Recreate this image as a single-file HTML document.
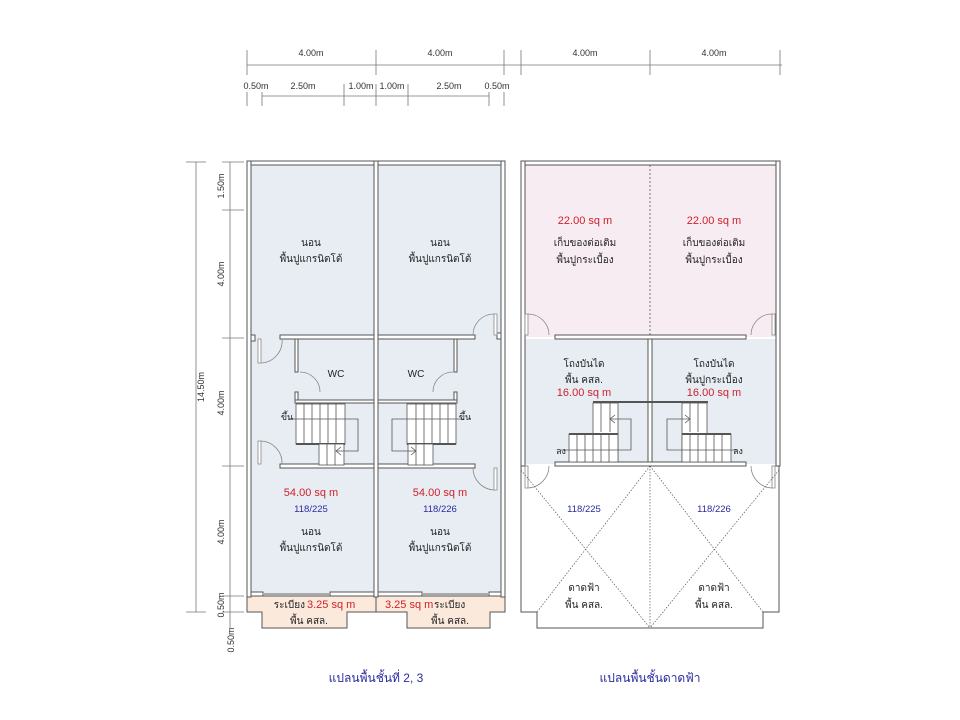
<!DOCTYPE html>
<html><head><meta charset="utf-8"><style>
html,body{margin:0;padding:0;background:#fff;}
svg{display:block;}
text{font-family:"Liberation Sans","DejaVu Sans",sans-serif;font-size:10px;fill:#222;text-anchor:middle;}
.r{fill:#d0202a;font-size:11px;}
.b{fill:#2a2aa0;font-size:9.5px;}
.d{font-size:9px;fill:#333;}
.t{fill:#2a2aa0;font-size:12px;}
.w{fill:#fff;stroke:#555;stroke-width:1;}
.dim{stroke:#777;stroke-width:0.8;fill:none;}
.ln{stroke:#555;stroke-width:0.8;fill:none;}
.dr{stroke:#888;stroke-width:0.8;fill:none;}
</style></head><body>
<svg width="960" height="720" viewBox="0 0 960 720" xmlns="http://www.w3.org/2000/svg">
<!-- top dims -->
<g class="dim">
<line x1="247" y1="65" x2="782" y2="65"/>
<line x1="247" y1="50" x2="247" y2="75"/><line x1="376" y1="50" x2="376" y2="75"/><line x1="504" y1="50" x2="504" y2="75"/>
<line x1="521" y1="50" x2="521" y2="75"/><line x1="650" y1="50" x2="650" y2="75"/><line x1="780" y1="50" x2="780" y2="75"/>
<line x1="262" y1="96" x2="489" y2="96"/>
<line x1="247" y1="92" x2="247" y2="106"/><line x1="262" y1="92" x2="262" y2="106"/><line x1="344" y1="84" x2="344" y2="106"/>
<line x1="376" y1="84" x2="376" y2="106"/><line x1="408" y1="84" x2="408" y2="106"/><line x1="489" y1="92" x2="489" y2="106"/><line x1="504" y1="92" x2="504" y2="106"/>
</g>
<text class="d" x="311" y="56">4.00m</text><text class="d" x="440" y="56">4.00m</text>
<text class="d" x="585" y="56">4.00m</text><text class="d" x="714" y="56">4.00m</text>
<text class="d" x="256" y="89">0.50m</text><text class="d" x="303" y="89">2.50m</text><text class="d" x="361" y="89">1.00m</text>
<text class="d" x="392" y="89">1.00m</text><text class="d" x="449" y="89">2.50m</text><text class="d" x="497" y="89">0.50m</text>
<!-- left dims -->
<g class="dim">
<line x1="196" y1="162" x2="196" y2="612"/>
<line x1="186" y1="162" x2="206" y2="162"/><line x1="186" y1="612" x2="206" y2="612"/>
<line x1="230" y1="162" x2="230" y2="628"/>
<line x1="222" y1="162" x2="244" y2="162"/><line x1="222" y1="210" x2="244" y2="210"/><line x1="222" y1="338" x2="244" y2="338"/>
<line x1="222" y1="466" x2="244" y2="466"/><line x1="222" y1="596" x2="244" y2="596"/><line x1="222" y1="612" x2="244" y2="612"/>
</g>
<text class="d" transform="translate(204,387) rotate(-90)">14.50m</text>
<text class="d" transform="translate(224,186) rotate(-90)">1.50m</text>
<text class="d" transform="translate(224,274) rotate(-90)">4.00m</text>
<text class="d" transform="translate(224,403) rotate(-90)">4.00m</text>
<text class="d" transform="translate(224,532) rotate(-90)">4.00m</text>
<text class="d" transform="translate(224,605) rotate(-90)">0.50m</text>
<text class="d" transform="translate(234,640) rotate(-90)">0.50m</text>

<!-- LEFT PLAN -->
<rect x="248" y="162" width="256" height="434" fill="#e8edf4"/>
<path d="M247 596 H505 V612 H490 V628 H407 V612 H347 V628 H262 V612 H247 Z" fill="#fbe9dc" stroke="#555" stroke-width="1"/>
<line x1="376" y1="596" x2="376" y2="612" stroke="#555"/>
<rect class="w" x="247" y="161" width="258" height="4"/>
<rect class="w" x="247" y="161" width="4" height="436"/>
<rect class="w" x="501" y="161" width="4" height="436"/>
<rect class="w" x="374" y="161" width="4" height="436"/>
<!-- y336 wall -->
<rect class="w" x="280" y="335" width="94" height="4"/><rect class="w" x="378" y="335" width="97" height="4"/>
<rect class="w" x="251" y="335" width="4" height="6"/><rect class="w" x="497" y="333" width="4" height="6"/>
<!-- y464 wall -->
<rect class="w" x="280" y="464" width="94" height="4"/><rect class="w" x="378" y="464" width="97" height="4"/>
<!-- bottom wall -->
<rect class="w" x="251" y="592" width="12" height="4"/><rect class="w" x="330" y="592" width="44" height="4"/>
<rect class="w" x="378" y="592" width="44" height="4"/><rect class="w" x="489" y="592" width="12" height="4"/>
<line x1="263" y1="594" x2="330" y2="594" stroke="#aaa" stroke-width="2"/><line x1="422" y1="594" x2="489" y2="594" stroke="#aaa" stroke-width="2"/>
<!-- doors left -->
<g class="dr">
<rect x="258" y="339" width="3" height="24" fill="#fff"/><path d="M261 363 A22 22 0 0 0 282 339"/>
<rect x="258" y="441" width="3" height="23" fill="#fff"/><path d="M261 441 A22 22 0 0 1 282 464"/>
<rect x="494" y="314" width="3" height="21" fill="#fff"/><path d="M494 314 A21 21 0 0 0 473 335"/>
<rect x="494" y="468" width="3" height="22" fill="#fff"/><path d="M494 490 A22 22 0 0 1 473 468"/>
<!-- wc doors -->
<path d="M300 372 A20 20 0 0 1 320 392"/><path d="M453 372 A20 20 0 0 0 433 392"/>
</g>
<!-- WC walls -->
<rect class="w" x="295" y="339" width="3" height="33"/><rect class="w" x="295" y="392" width="3" height="10"/>
<rect class="w" x="295" y="400" width="79" height="3"/>
<rect class="w" x="454" y="339" width="3" height="33"/><rect class="w" x="454" y="392" width="3" height="10"/>
<rect class="w" x="378" y="400" width="79" height="3"/>
<text x="336" y="377">WC</text><text x="416" y="377">WC</text>
<!-- stairs left -->
<g class="ln">
<rect x="296" y="404" width="49" height="40" fill="#fff"/>
<line x1="304" y1="404" x2="304" y2="444"/><line x1="312" y1="404" x2="312" y2="444"/><line x1="320" y1="404" x2="320" y2="444"/><line x1="328" y1="404" x2="328" y2="444"/><line x1="336" y1="404" x2="336" y2="444"/>
<line x1="296" y1="444" x2="345" y2="444" stroke-width="2"/>
<rect x="319" y="444" width="25" height="21" fill="#fff"/>
<line x1="327" y1="444" x2="327" y2="465"/><line x1="335" y1="444" x2="335" y2="465"/>
<polyline points="288,419 358,419 358,451 336,451"/><polyline points="341,447 336,451 341,455"/>
<rect x="407" y="404" width="49" height="40" fill="#fff"/>
<line x1="416" y1="404" x2="416" y2="444"/><line x1="424" y1="404" x2="424" y2="444"/><line x1="432" y1="404" x2="432" y2="444"/><line x1="440" y1="404" x2="440" y2="444"/><line x1="448" y1="404" x2="448" y2="444"/>
<line x1="407" y1="444" x2="456" y2="444" stroke-width="2"/>
<rect x="408" y="444" width="25" height="21" fill="#fff"/>
<line x1="416" y1="444" x2="416" y2="465"/><line x1="424" y1="444" x2="424" y2="465"/>
<polyline points="464,419 392,419 392,451 416,451"/><polyline points="411,447 416,451 411,455"/>
</g>
<text x="287" y="420" style="font-size:9px">ขึ้น</text><text x="465" y="420" style="font-size:9px">ขึ้น</text>
<text x="311" y="246">นอน</text><text x="311" y="262">พื้นปูแกรนิตโต้</text>
<text x="440" y="246">นอน</text><text x="440" y="262">พื้นปูแกรนิตโต้</text>
<text class="r" x="311" y="496">54.00 sq m</text><text class="b" x="311" y="512">118/225</text>
<text x="311" y="535">นอน</text><text x="311" y="551">พื้นปูแกรนิตโต้</text>
<text class="r" x="440" y="496">54.00 sq m</text><text class="b" x="440" y="512">118/226</text>
<text x="440" y="535">นอน</text><text x="440" y="551">พื้นปูแกรนิตโต้</text>
<text x="305" y="608" style="text-anchor:end">ระเบียง</text><text class="r" x="307" y="608" style="text-anchor:start">3.25 sq m</text>
<text class="r" x="385" y="608" style="text-anchor:start">3.25 sq m</text><text x="434" y="608" style="text-anchor:start">ระเบียง</text>
<text x="309" y="624">พื้น คสล.</text><text x="450" y="624">พื้น คสล.</text>

<!-- RIGHT PLAN -->
<rect x="522" y="162" width="257" height="175" fill="#f8ecf3"/>
<rect x="522" y="339" width="257" height="125" fill="#e8edf4"/>
<path d="M521 466 V612 H537 V628 H763 V612 H779 V466" fill="#fff" stroke="#555" stroke-width="1"/>
<rect class="w" x="521" y="161" width="259" height="4"/>
<rect class="w" x="521" y="161" width="4" height="305"/>
<rect class="w" x="776" y="161" width="4" height="305"/>
<line x1="650" y1="165" x2="650" y2="335" stroke="#555" stroke-dasharray="2,2" stroke-width="0.8"/>
<rect class="w" x="555" y="335" width="191" height="4"/>
<rect class="w" x="648" y="339" width="4" height="127"/>
<rect class="w" x="555" y="462" width="191" height="4"/>
<g class="dr">
<rect x="525" y="314" width="3" height="21" fill="#fff"/><path d="M528 314 A21 21 0 0 1 549 335"/>
<rect x="772" y="314" width="3" height="21" fill="#fff"/><path d="M772 314 A21 21 0 0 0 751 335"/>
<rect x="525" y="466" width="3" height="22" fill="#fff"/><path d="M528 488 A22 22 0 0 0 549 466"/>
<rect x="772" y="466" width="3" height="22" fill="#fff"/><path d="M772 488 A22 22 0 0 1 751 466"/>
</g>
<g stroke="#555" stroke-width="0.7" stroke-dasharray="1.5,1.5" fill="none">
<line x1="521" y1="470" x2="650" y2="628"/><line x1="650" y1="466" x2="537" y2="612"/>
<line x1="779" y1="470" x2="650" y2="628"/><line x1="650" y1="466" x2="763" y2="612"/>
<line x1="650" y1="466" x2="650" y2="628"/>
</g>
<!-- stairs right -->
<g class="ln">
<rect x="593" y="403" width="25" height="59" fill="#fff"/>
<line x1="601" y1="403" x2="601" y2="432"/><line x1="610" y1="403" x2="610" y2="432"/>
<line x1="593" y1="402" x2="708" y2="402" stroke-width="2"/>
<rect x="569" y="434" width="49" height="28" fill="#fff"/>
<line x1="569" y1="434" x2="618" y2="434" stroke-width="2"/>
<line x1="577" y1="434" x2="577" y2="462"/><line x1="585" y1="434" x2="585" y2="462"/><line x1="593" y1="434" x2="593" y2="462"/><line x1="601" y1="434" x2="601" y2="462"/><line x1="609" y1="434" x2="609" y2="462"/>
<polyline points="610,419 631,419 631,450 560,450"/><polyline points="615,415 610,419 615,423"/>
<rect x="682" y="403" width="25" height="59" fill="#fff"/>
<line x1="690" y1="403" x2="690" y2="432"/><line x1="698" y1="403" x2="698" y2="432"/>
<rect x="682" y="434" width="49" height="28" fill="#fff"/>
<line x1="682" y1="434" x2="731" y2="434" stroke-width="2"/>
<line x1="690" y1="434" x2="690" y2="462"/><line x1="698" y1="434" x2="698" y2="462"/><line x1="706" y1="434" x2="706" y2="462"/><line x1="714" y1="434" x2="714" y2="462"/><line x1="722" y1="434" x2="722" y2="462"/>
<polyline points="690,419 667,419 667,450 738,450"/><polyline points="685,415 690,419 685,423"/>
</g>
<text x="561" y="454" style="font-size:9px">ลง</text><text x="738" y="454" style="font-size:9px">ลง</text>
<text class="r" x="585" y="224">22.00 sq m</text><text x="585" y="246">เก็บของต่อเติม</text><text x="585" y="263">พื้นปูกระเบื้อง</text>
<text class="r" x="714" y="224">22.00 sq m</text><text x="714" y="246">เก็บของต่อเติม</text><text x="714" y="263">พื้นปูกระเบื้อง</text>
<text x="584" y="367">โถงบันได</text><text x="584" y="383">พื้น คสล.</text><text class="r" x="584" y="396">16.00 sq m</text>
<text x="714" y="367">โถงบันได</text><text x="714" y="383">พื้นปูกระเบื้อง</text><text class="r" x="714" y="396">16.00 sq m</text>
<text class="b" x="584" y="512">118/225</text><text class="b" x="714" y="512">118/226</text>
<text x="584" y="591">ดาดฟ้า</text><text x="584" y="608">พื้น คสล.</text>
<text x="714" y="591">ดาดฟ้า</text><text x="714" y="608">พื้น คสล.</text>

<text class="t" x="376" y="682">แปลนพื้นชั้นที่ 2, 3</text>
<text class="t" x="650" y="682">แปลนพื้นชั้นดาดฟ้า</text>
</svg>
</body></html>
